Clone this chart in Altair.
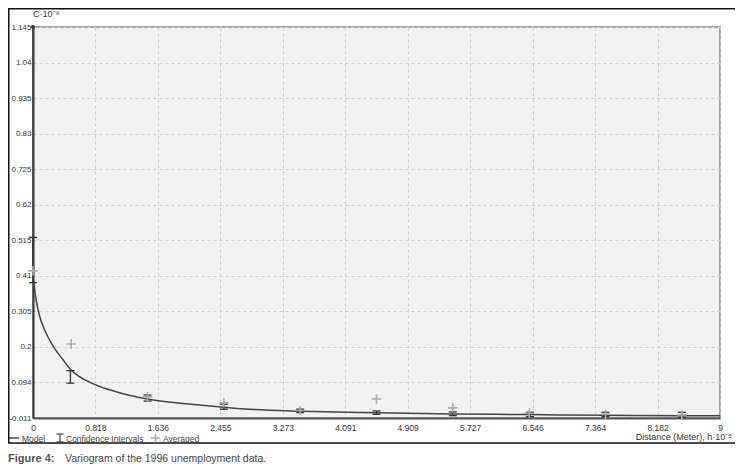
import altair as alt
import pandas as pd

# ---- data ----
model_x = [0.0, 0.003, 0.013, 0.043, 0.087, 0.152, 0.26, 0.39, 0.49, 0.80, 1.10, 1.50, 2.00, 2.50, 2.90, 3.50, 4.30, 5.50, 6.50, 7.50, 8.50, 9.00]
model_y = [1.145, 0.405, 0.385, 0.335, 0.29, 0.25, 0.203, 0.162, 0.133, 0.089, 0.066, 0.045, 0.031, 0.021, 0.014, 0.009, 0.005, 0.001, -0.001, -0.003, -0.004, -0.004]

ci_x = [0.0, 0.49, 1.50, 2.50, 3.50, 4.50, 5.50, 6.51, 7.50, 8.50]
ci_lo = [0.389, 0.092, 0.039, 0.015, 0.005, 0.000, -0.004, -0.007, -0.007, -0.009]
ci_hi = [0.523, 0.129, 0.057, 0.030, 0.015, 0.010, 0.007, 0.006, 0.006, 0.006]

avg_x = [0.0, 0.50, 1.50, 2.50, 3.50, 4.50, 5.50, 6.50, 7.50, 8.50]
avg_y = [0.424, 0.208, 0.052, 0.034, 0.011, 0.045, 0.019, 0.003, 0.000, -0.002]

x_ticks = [0, 0.818, 1.636, 2.455, 3.273, 4.091, 4.909, 5.727, 6.546, 7.364, 8.182, 9]
y_ticks = [-0.011, 0.094, 0.2, 0.305, 0.41, 0.515, 0.62, 0.725, 0.83, 0.935, 1.04, 1.145]

legend_labels = ["Model", "Confidence Intervals", "Averaged"]
x_title = "Distance (Meter), h·10⁻⁵"
y_title = "C·10⁻⁹"
caption_bold = "Figure 4:"
caption_text = "Variogram of the 1996 unemployment data."

FONT = "Liberation Sans"
LABEL_EXPR = "replace(format(datum.value, '.4~g'), '\u2212', '-')"

model_df = pd.DataFrame({"x": model_x, "y": model_y})
ci_df = pd.DataFrame({"x": ci_x, "lo": ci_lo, "hi": ci_hi})
avg_df = pd.DataFrame({"x": avg_x, "y": avg_y})
one = pd.DataFrame({"a": [0]})


def X(field="x"):
    return alt.X(
        f"{field}:Q",
        scale=alt.Scale(domain=[0, 9], nice=False, zero=False),
        axis=alt.Axis(
            values=x_ticks, title=None, ticks=False, labelExpr=LABEL_EXPR,
            labelPadding=5, labelFontSize=8.5, labelColor="#333", labelFont=FONT,
            domainColor="#555", domainWidth=2, grid=True, gridDash=[3, 3],
            gridColor="#cfcfcf", labelFlush=False,
        ),
    )


def Y(field="y"):
    return alt.Y(
        f"{field}:Q",
        scale=alt.Scale(domain=[-0.011, 1.145], nice=False, zero=False),
        axis=alt.Axis(
            values=y_ticks, title=None, ticks=False, labelExpr=LABEL_EXPR,
            labelPadding=2, labelFontSize=8, labelColor="#333", labelFont=FONT,
            domainColor="#333", domainWidth=2, grid=True, gridDash=[3, 3],
            gridColor="#cfcfcf", labelFlush=False,
        ),
    )


model = alt.Chart(model_df).mark_line(color="#444", strokeWidth=1.5, interpolate="monotone").encode(x=X(), y=Y())

origin_dot = alt.Chart(model_df.head(1)).mark_circle(color="#333", size=18, opacity=1).encode(x=X(), y=Y())

ci_rule = alt.Chart(ci_df).mark_rule(color="#333", strokeWidth=1.3).encode(x=X(), y=Y("lo"), y2="hi:Q")
ci_lo_tick = alt.Chart(ci_df).mark_tick(color="#333", orient="horizontal", size=8, thickness=1.3, opacity=1).encode(x=X(), y=Y("lo"))
ci_hi_tick = alt.Chart(ci_df).mark_tick(color="#333", orient="horizontal", size=8, thickness=1.3, opacity=1).encode(x=X(), y=Y("hi"))

avg = alt.Chart(avg_df).mark_point(
    shape="M-1,0H1M0,-1V1", filled=False, stroke="#aaaaaa", strokeWidth=1.6, size=90, opacity=1
).encode(x=X(), y=Y())

# frame around the chart image
frame = alt.Chart(one).mark_rect(filled=False, stroke="#111", strokeWidth=1.5).encode(
    x=alt.value(-24.25), x2=alt.value(703), y=alt.value(-18.25), y2=alt.value(416)
)

# titles
ytitle = alt.Chart(one).mark_text(align="left", baseline="middle", fontSize=9, color="#333", font=FONT).encode(
    x=alt.value(0), y=alt.value(-13), text=alt.value(y_title)
)
xtitle = alt.Chart(one).mark_text(align="right", baseline="middle", fontSize=9, color="#333", font=FONT).encode(
    x=alt.value(699), y=alt.value(410), text=alt.value(x_title)
)

# legend
leg_y = 411
leg_line = alt.Chart(one).mark_rule(color="#444", strokeWidth=1.5).encode(
    x=alt.value(-24), x2=alt.value(-14), y=alt.value(leg_y)
)
leg_ci_v = alt.Chart(one).mark_rule(color="#444", strokeWidth=1.2).encode(
    x=alt.value(27), y=alt.value(leg_y - 4), y2=alt.value(leg_y + 4)
)
leg_ci_t = alt.Chart(one).mark_rule(color="#444", strokeWidth=1.2).encode(
    x=alt.value(23.5), x2=alt.value(30.5), y=alt.value(leg_y - 4)
)
leg_ci_b = alt.Chart(one).mark_rule(color="#444", strokeWidth=1.2).encode(
    x=alt.value(23.5), x2=alt.value(30.5), y=alt.value(leg_y + 4)
)
leg_avg_h = alt.Chart(one).mark_rule(color="#aaa", strokeWidth=1.5).encode(
    x=alt.value(118), x2=alt.value(127), y=alt.value(leg_y)
)
leg_avg_v = alt.Chart(one).mark_rule(color="#aaa", strokeWidth=1.5).encode(
    x=alt.value(122.5), y=alt.value(leg_y - 4.5), y2=alt.value(leg_y + 4.5)
)
leg_positions = [-11, 33, 130]
leg_texts = [
    alt.Chart(one).mark_text(align="left", baseline="middle", fontSize=8.5, color="#444", font=FONT).encode(
        x=alt.value(px), y=alt.value(leg_y + 1), text=alt.value(lbl)
    )
    for px, lbl in zip(leg_positions, legend_labels)
]

# caption
cap1 = alt.Chart(one).mark_text(align="left", baseline="middle", fontSize=11, fontWeight="bold", color="#555", font=FONT).encode(
    x=alt.value(-25), y=alt.value(432), text=alt.value(caption_bold)
)
cap2 = alt.Chart(one).mark_text(align="left", baseline="middle", fontSize=10.5, color="#444", font=FONT).encode(
    x=alt.value(32), y=alt.value(432), text=alt.value(caption_text)
)

chart = alt.layer(
    model, ci_rule, ci_lo_tick, ci_hi_tick, avg, origin_dot,
    frame, ytitle, xtitle,
    leg_line, leg_ci_v, leg_ci_t, leg_ci_b, leg_avg_h, leg_avg_v, *leg_texts,
    cap1, cap2,
).properties(
    width=687, height=391,
    padding={"left": 25, "top": 19, "right": 15, "bottom": 47},
    autosize=alt.AutoSizeParams(type="none"),
    background="white",
).configure_view(
    fill="#f2f2f2", stroke="#888", strokeWidth=1.5
)

chart.save("out.html", embed_options={"renderer": "svg", "actions": False})
